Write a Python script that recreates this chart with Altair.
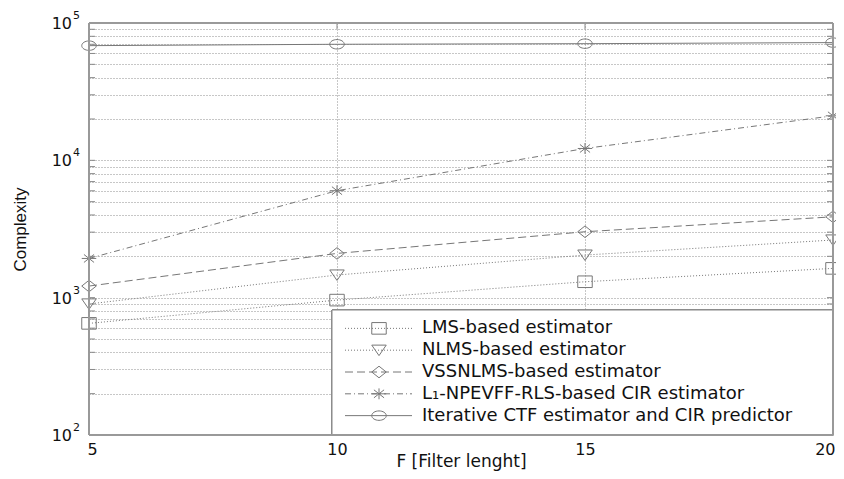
import altair as alt
import pandas as pd

# ---- data ----
F_values = [5, 10, 15, 20]
series_names = [
    "LMS-based estimator",
    "NLMS-based estimator",
    "VSSNLMS-based estimator",
    "L\u2081-NPEVFF-RLS-based CIR estimator",
    "Iterative CTF estimator and CIR predictor",
]
lms = [650, 960, 1306, 1634]
nlms = [900, 1462, 2043, 2630]
vssnlms = [1215, 2100, 3020, 3880]
l1_npevff = [1930, 6010, 12200, 21100]
iter_ctf = [68400, 70000, 70700, 72000]

x_ticks = [5, 10, 15, 20]
decades = [100, 1000, 10000, 100000]
decade_exps = ["2", "3", "4", "5"]
y_ticks = [m * 10 ** k for k in (2, 3, 4) for m in range(1, 10)] + [100000]

all_series = [lms, nlms, vssnlms, l1_npevff, iter_ctf]
rows = []
for name, vals in zip(series_names, all_series):
    for f, c in zip(F_values, vals):
        rows.append({"series": name, "F": f, "C": c})
df = pd.DataFrame(rows)

FONT = "DejaVu Sans"
GREY = "#777777"
GRID = "#8f8f8f"

dash_scale = alt.Scale(domain=series_names,
                       range=[[1, 2], [1, 2], [8, 4], [6, 3, 1, 3], [1, 0]])
shape_scale = alt.Scale(domain=series_names, range=[
    "M-1,-0.8L1,-0.8L1,0.8L-1,0.8Z",
    "M-1,-0.7L1,-0.7L0,0.75Z",
    "M-1,0L0,-0.8L1,0L0,0.8Z",
    "M-1,0L1,0M0,-0.75L0,0.75M-0.7,-0.55L0.7,0.55M-0.7,0.55L0.7,-0.55",
    "M-1,0A1,0.65 0 1,1 1,0A1,0.65 0 1,1 -1,0Z",
])

x_enc = alt.X("F:Q",
              scale=alt.Scale(domain=[5, 20], nice=False, zero=False),
              axis=alt.Axis(values=x_ticks, grid=True, gridDash=[1, 2], gridColor=GRID,
                            domain=False, ticks=False, labelFlush=True, labelFlushOffset=2,
                            labelFont=FONT, labelFontSize=16, labelColor="#111",
                            labelPadding=6, format="d",
                            title="F [Filter lenght]", titleFont=FONT, titleFontSize=17,
                            titleFontWeight="normal", titleColor="#111",
                            titleY=31, titleBaseline="alphabetic"))
y_enc = alt.Y("C:Q",
              scale=alt.Scale(type="log", domain=[100, 100000], nice=False),
              axis=alt.Axis(values=y_ticks, grid=True, gridDash=[1, 2], gridColor=GRID,
                            domain=False, ticks=False, labels=False,
                            title="Complexity", titleFont="Liberation Sans", titleFontSize=17,
                            titleFontWeight="normal", titleColor="#111",
                            titleX=-69, titleY=206, titleAlign="center",
                            titleBaseline="middle", titleAngle=-90))

base = alt.Chart(df)
lines = base.mark_line(color=GREY, strokeWidth=1).encode(
    x=x_enc, y=y_enc,
    strokeDash=alt.StrokeDash("series:N", scale=dash_scale, legend=None),
    detail="series:N",
)
points = base.mark_point(filled=False, color=GREY, strokeWidth=1, size=210, opacity=1).encode(
    x="F:Q", y="C:Q",
    shape=alt.Shape("series:N", scale=shape_scale, legend=None),
)

tick_df = pd.DataFrame({"C": y_ticks})
lt = alt.Chart(tick_df).mark_rule(color="#888", strokeWidth=1).encode(
    y="C:Q", x=alt.value(0), x2=alt.value(6))
rt = alt.Chart(tick_df).mark_rule(color="#888", strokeWidth=1).encode(
    y="C:Q", x=alt.value(738), x2=alt.value(744))
xt_df = pd.DataFrame({"F": x_ticks[1:3]})
tt = alt.Chart(xt_df).mark_rule(color="#888").encode(x="F:Q", y=alt.value(0), y2=alt.value(6))
bt = alt.Chart(xt_df).mark_rule(color="#888").encode(x="F:Q", y=alt.value(406), y2=alt.value(412))

dec_df = pd.DataFrame({"C": decades, "e": decade_exps})
ylab = alt.Chart(dec_df).mark_text(font=FONT, fontSize=16, align="right",
                                   baseline="middle", color="#111", dy=1).encode(
    y="C:Q", x=alt.value(-17), text=alt.value("10"))
yexp = alt.Chart(dec_df).mark_text(font=FONT, fontSize=11, align="left",
                                   baseline="middle", color="#111", dy=-7).encode(
    y="C:Q", x=alt.value(-16), text="e:N")

frame = alt.Chart(tick_df).mark_rect(fill=None, stroke="#999", strokeWidth=1).encode(
    x=alt.value(0), x2=alt.value(744), y=alt.value(0), y2=alt.value(412))

main = alt.layer(lines, points, lt, rt, tt, bt, ylab, yexp)

# ---- legend ----
leg_df = pd.DataFrame({"series": series_names})
leg_y = alt.Y("series:N", scale=alt.Scale(domain=series_names, range=[289, 409], padding=0.5),
              axis=None)
box = alt.Chart(leg_df).mark_rect(fill="white", stroke="#888", strokeWidth=1).encode(
    x=alt.value(243), x2=alt.value(744), y=alt.value(287), y2=alt.value(412))
leg_lines = alt.Chart(leg_df).mark_rule(color=GREY, strokeWidth=1).encode(
    y=leg_y, x=alt.value(256), x2=alt.value(323),
    strokeDash=alt.StrokeDash("series:N", scale=dash_scale, legend=None))
leg_pts = alt.Chart(leg_df).mark_point(filled=False, color=GREY, strokeWidth=1, size=210,
                                       opacity=1).encode(
    y=leg_y, x=alt.value(290),
    shape=alt.Shape("series:N", scale=shape_scale, legend=None))
leg_txt = alt.Chart(leg_df).mark_text(font=FONT, fontSize=18, align="left",
                                      baseline="middle", color="#111").encode(
    y=leg_y, x=alt.value(333), text="series:N")
legend = alt.layer(box, leg_lines, leg_pts, leg_txt)

chart = alt.layer(main, legend, frame).resolve_scale(y="independent").properties(
    width=744, height=412,
    autosize=alt.AutoSizeParams(type="none"),
    padding={"left": 81, "top": 15, "right": 3, "bottom": 36},
).configure_view(stroke="#999", strokeWidth=1).configure(background="white")

chart.save("out.html", embed_options={"renderer": "svg", "actions": False})
